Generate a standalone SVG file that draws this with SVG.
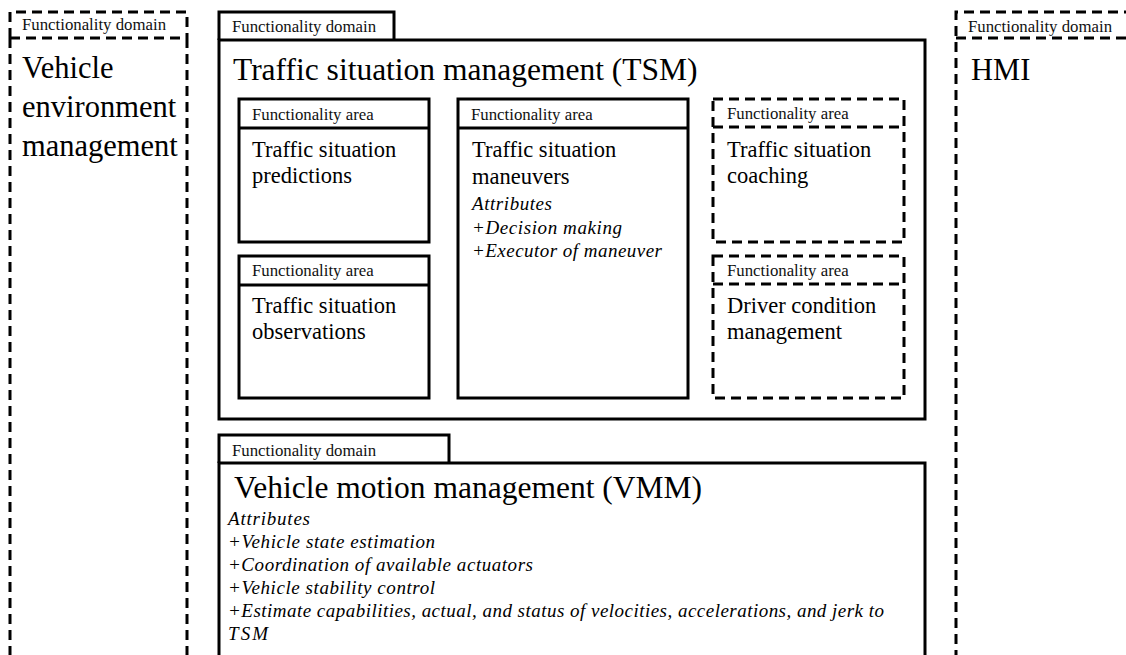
<svg xmlns="http://www.w3.org/2000/svg" width="1126" height="655" viewBox="0 0 1126 655">
<style>
.s{fill:none;stroke:#000;stroke-width:3}
.d{fill:none;stroke:#000;stroke-width:3;stroke-dasharray:10 6}
.lb{font-family:"Liberation Serif",serif;font-size:16.8px;fill:#111}
.tt{font-family:"Liberation Serif",serif;font-size:31.5px;fill:#000}
.big{font-family:"Liberation Serif",serif;font-size:30.5px;fill:#000}
.md{font-family:"Liberation Serif",serif;font-size:22.5px;fill:#000}
.it{font-family:"Liberation Serif",serif;font-size:19px;font-style:italic;fill:#000}
</style>
<rect width="1126" height="655" fill="#fff"/>
<g id="vem">
<path class="d" d="M10 38 V12 H187 V38 M10 38 H187 M10 38 V660 M187 38 V660"/>
<text class="lb" x="22" y="30">Functionality domain</text>
<text class="big" x="22" y="78">Vehicle</text>
<text class="big" x="22" y="117">environment</text>
<text class="big" x="22" y="156">management</text>
</g>
<g id="tsm">
<path class="s" d="M219 40 V12 H394 V40"/>
<rect class="s" x="219" y="40" width="706" height="379"/>
<text class="lb" x="232" y="32">Functionality domain</text>
<text class="tt" x="233" y="80">Traffic  situation management (TSM)</text>
</g>
<g id="predictions">
<rect class="s" x="239" y="99" width="190" height="143"/>
<line class="s" x1="239" y1="128" x2="429" y2="128"/>
<text class="lb" x="252" y="120">Functionality area</text>
<text class="md" x="252" y="157">Traffic  situation</text>
<text class="md" x="252" y="183">predictions</text>
</g>
<g id="observations">
<rect class="s" x="239" y="256" width="190" height="142"/>
<line class="s" x1="239" y1="285" x2="429" y2="285"/>
<text class="lb" x="252" y="276">Functionality area</text>
<text class="md" x="252" y="313">Traffic  situation</text>
<text class="md" x="252" y="339">observations</text>
</g>
<g id="maneuvers">
<rect class="s" x="458" y="99" width="230" height="299"/>
<line class="s" x1="458" y1="128" x2="688" y2="128"/>
<text class="lb" x="471" y="120">Functionality area</text>
<text class="md" x="472" y="157">Traffic  situation</text>
<text class="md" x="472" y="184">maneuvers</text>
<text class="it" x="472" y="210" textLength="80" lengthAdjust="spacing">Attributes</text>
<text class="it" x="472" y="234" textLength="150" lengthAdjust="spacing">+Decision making</text>
<text class="it" x="472" y="257" textLength="190" lengthAdjust="spacing">+Executor of maneuver</text>
</g>
<g id="coaching">
<rect class="d" x="713" y="99" width="191" height="143"/>
<line class="d" x1="713" y1="127" x2="904" y2="127"/>
<text class="lb" x="727" y="119">Functionality area</text>
<text class="md" x="727" y="157">Traffic  situation</text>
<text class="md" x="727" y="183">coaching</text>
</g>
<g id="driver">
<rect class="d" x="713" y="256" width="191" height="142"/>
<line class="d" x1="713" y1="284" x2="904" y2="284"/>
<text class="lb" x="727" y="276">Functionality area</text>
<text class="md" x="727" y="313">Driver condition</text>
<text class="md" x="727" y="339">management</text>
</g>
<g id="hmi">
<path class="d" d="M956 660 V12 H1130 M956 38 H1130"/>
<text class="lb" x="968" y="32">Functionality domain</text>
<text class="big" x="971" y="80">HMI</text>
</g>
<g id="vmm">
<path class="s" d="M219 463 V435 H449 V463"/>
<path class="s" d="M219 660 V463 H925 V660"/>
<text class="lb" x="232" y="456">Functionality domain</text>
<text class="tt" x="234" y="498">Vehicle motion management (VMM)</text>
<text class="it" x="228" y="525" textLength="82" lengthAdjust="spacing">Attributes</text>
<text class="it" x="228" y="548" textLength="207" lengthAdjust="spacing">+Vehicle state estimation</text>
<text class="it" x="228" y="571" textLength="305" lengthAdjust="spacing">+Coordination of available actuators</text>
<text class="it" x="228" y="594" textLength="207" lengthAdjust="spacing">+Vehicle stability control</text>
<text class="it" x="228" y="617" textLength="656" lengthAdjust="spacing">+Estimate capabilities, actual, and status of velocities, accelerations, and jerk to</text>
<text class="it" x="228" y="640" textLength="40" lengthAdjust="spacing">TSM</text>
</g>
<g id="connectors"></g>
</svg>
